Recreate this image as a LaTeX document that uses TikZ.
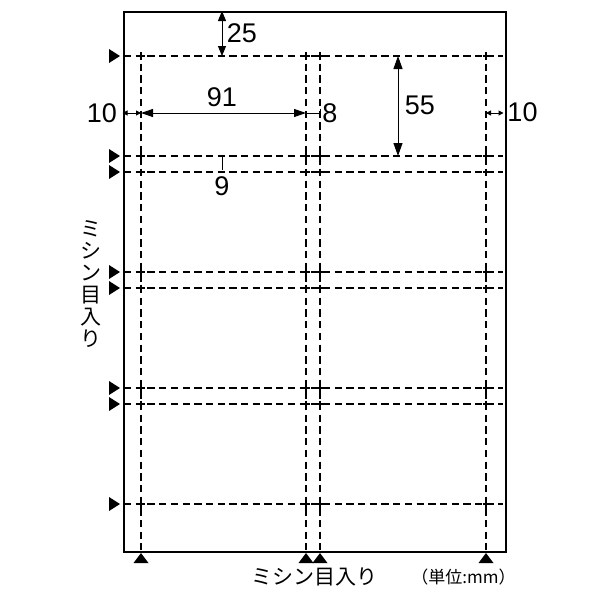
\documentclass[tikz,border=0pt]{standalone}
\usepackage{fontspec}
\setmainfont{Liberation Sans}
\newfontfamily\jp{Noto Sans CJK JP}
\usetikzlibrary{arrows.meta}
\begin{document}
\begin{tikzpicture}[x=1pt,y=-1pt,
  cut/.style={line width=1.1pt, dash pattern=on 7.3pt off 4.4pt},
  crossmark/.style={line width=1.1pt},
  dimline/.style={line width=1pt},
  bigtip/.style={{Triangle[length=12pt,width=8pt]}-{Triangle[length=12pt,width=8pt]}},
  smalltip/.style={{Triangle[length=5pt,width=5pt]}-{Triangle[length=5pt,width=5pt]}},
  numlbl/.style={inner sep=0pt, font=\fontsize{27}{27}\selectfont},
  jplbl/.style={inner sep=0pt, font=\jp\fontsize{21}{22}\selectfont},
  unitlbl/.style={inner sep=0pt, font=\jp\fontsize{17}{17}\selectfont},
  marker/.style={fill=black}]
\useasboundingbox (0,0) rectangle (600,600);
% sheet
\node[draw, line width=2pt, inner sep=0pt, minimum width=382pt, minimum height=540pt, anchor=north west] (page) at (122.5,10.5) {};
% horizontal perforations with side markers
\foreach \y in {56,156,172,272,288,388,404,504}{
  \draw[cut] (124,\y) -- (503,\y);
  \fill[marker] (109,\y-7) -- (120,\y) -- (109,\y+7) -- cycle;
}
% vertical perforations with bottom markers
\foreach \x in {141,306,320,486}{
  \draw[cut] (\x,52) -- (\x,550);
  \fill[marker] (\x-7.5,563) -- (\x,553) -- (\x+7.5,563) -- cycle;
}
% crossings
\foreach \x in {141,306,320,486}{
  \foreach \y in {56,156,172,272,288,388,404,504}{
    \draw[crossmark] (\x-3.5,\y) -- (\x+3.5,\y) (\x,\y-3.5) -- (\x,\y+3.5);
  }
}
% coordinates for dimensions
\coordinate (a25t) at (222,11);
\coordinate (a25b) at (222,56);
\coordinate (l10a) at (122.5,113);
\coordinate (l10b) at (141,113);
\coordinate (w91b) at (306,113);
\coordinate (g8b) at (320,113);
\coordinate (g8t) at (320,109);
\coordinate (g8u) at (320,117);
\coordinate (h55t) at (398,56);
\coordinate (h55b) at (398,156);
\coordinate (r10a) at (486,113);
\coordinate (r10b) at (503.5,113);
\coordinate (g9t) at (222,156);
\coordinate (g9b) at (222,170);
% dimension lines
\draw[dimline, {Triangle[length=10pt,width=8pt]}-{Triangle[length=10pt,width=8pt]}] (a25t) -- (a25b);
\draw[dimline, bigtip] (l10b) -- (w91b);
\draw[dimline, smalltip] (l10a) -- (l10b);
\draw[dimline] (w91b) -- (g8b);
\draw[dimline] (g8t) -- (g8u);
\draw[dimline, {Triangle[length=13pt,width=9pt]}-{Triangle[length=13pt,width=9pt]}] (h55t) -- (h55b);
\draw[dimline, smalltip] (r10a) -- (r10b);
\draw[dimline] (g9t) -- (g9b);
% labels
\node[numlbl] (n25) at (242,33) {25};
\node[numlbl] (n91) at (222,97) {91};
\node[numlbl] (n10l) at (102,113) {10};
\node[numlbl] (n8) at (330,113) {8};
\node[numlbl] (n55) at (420,105) {55};
\node[numlbl] (n10r) at (522.5,112) {10};
\node[numlbl] (n9) at (222,186) {9};
\node[jplbl, align=center] (vtext) at (91,284) {ミ\\シ\\ン\\目\\入\\り};
\node[jplbl] (htext) at (314.5,577) {ミシン目入り};
\node[unitlbl] (unit) at (463.5,577) {（単位:mm）};
\end{tikzpicture}
\end{document}
